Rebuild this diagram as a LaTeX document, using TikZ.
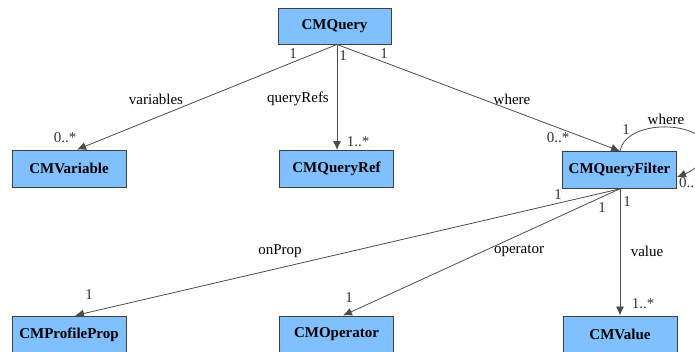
\documentclass[tikz,border=0pt]{standalone}
\usepackage{fontspec}
\setmainfont{Liberation Serif}
\usetikzlibrary{arrows.meta}
\definecolor{classblue}{RGB}{128,192,255}
\tikzset{
  classbox/.style = {draw=black!75, fill=classblue, line width=0.9pt,
                     minimum width=114pt, minimum height=37pt, inner sep=0pt,
                     font=\fontsize{15}{18}\selectfont\bfseries},
  assoc/.style    = {-{Latex[length=9pt,width=8pt]}, black!70, line width=0.8pt},
  role/.style     = {font=\fontsize{15}{18}\selectfont, inner sep=0pt},
  mult/.style     = {font=\fontsize{15}{18}\selectfont, inner sep=0pt, black!80}
}

\begin{document}
\begin{tikzpicture}[x=1pt,y=-1pt]
  \useasboundingbox (0,0) rectangle (695,351);
  \clip (0,0) rectangle (695,351);
  % classes
  \node[classbox,minimum width=113pt,minimum height=36pt] (query) at (334.5,26) {CMQuery};
  \node[classbox] (var)    at (69,168.5)    {CMVariable};
  \node[classbox] (qref)   at (336.5,169)   {CMQueryRef};
  \node[classbox] (filter) at (619.5,170)   {CMQueryFilter};
  \node[classbox] (prop)   at (69,334.5)    {CMProfileProp};
  \node[classbox] (oper)   at (336.5,334.5) {CMOperator};
  \node[classbox] (val)    at (620,334.5)   {CMValue};
  % associations of the query
  \draw[assoc] ([xshift=2.5pt]query.south) -- ([xshift=8pt]var.north);
  \draw[assoc] ([xshift=2.5pt]query.south) -- ([xshift=0.5pt]qref.north);
  \draw[assoc] ([xshift=2.5pt]query.south) -- ([xshift=0.5pt]filter.north);
  % nested filters
  \draw[assoc] ([xshift=0.5pt]filter.north)
        .. controls (624,125) and (680,118) .. (705,140)
        .. controls (712,152) and (700,168) .. ([yshift=-7pt]filter.east);
  % associations of the filter
  \draw[assoc] (filter.south) -- ([xshift=6pt]prop.north);
  \draw[assoc] (filter.south) -- ([xshift=6.5pt]oper.north);
  \draw[assoc] ([xshift=0.5pt]filter.south) -- (val.north);
  % roles
  \node[role] (rvar)    at (156,99)  {variables};
  \node[role] (rqref)   at (298,99)  {queryRefs};
  \node[role] (rwhere)  at (512,99)  {where};
  \node[role] (rloop)   at (666,119) {where};
  \node[role] (rprop)   at (280,251) {onProp};
  \node[role] (roper)   at (519,251) {operator};
  \node[role] (rval)    at (647,251) {value};
  % multiplicities
  \node[mult] (mvarA)   at (293,54)  {1};
  \node[mult] (mqrefA)  at (343,56)  {1};
  \node[mult] (mwhereA) at (384,54)  {1};
  \node[mult] (mvarB)   at (65,138)  {0..*};
  \node[mult] (mqrefB)  at (358,142) {1..*};
  \node[mult] (mwhereB) at (558,138) {0..*};
  \node[mult] (mloopA)  at (626,130) {1};
  \node[mult,anchor=west] (mloopB) at (679,183) {0..*};
  \node[mult] (mpropA)  at (558,195) {1};
  \node[mult] (moperA)  at (602,208) {1};
  \node[mult] (mvalA)   at (627,202) {1};
  \node[mult] (mpropB)  at (89,295)  {1};
  \node[mult] (moperB)  at (349,298) {1};
  \node[mult] (mvalB)   at (643,304) {1..*};
\end{tikzpicture}
\end{document}
